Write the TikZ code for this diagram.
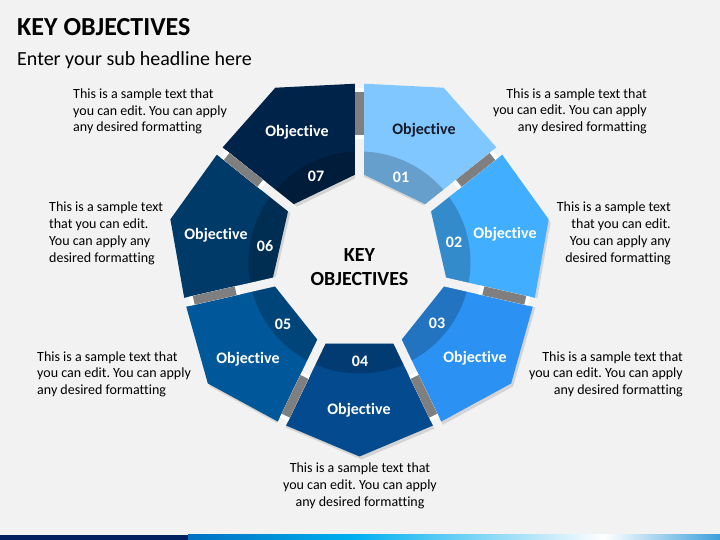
\documentclass[tikz,border=0pt]{standalone}
\usepackage{fontspec}
\setmainfont{Carlito}[Ligatures=NoCommon]
\frenchspacing
\definecolor{pagebg}{HTML}{F2F2F2}
\definecolor{seg1}{HTML}{80C7FF}
\definecolor{seg2}{HTML}{41AEFF}
\definecolor{seg3}{HTML}{2B91F2}
\definecolor{seg4}{HTML}{034A8E}
\definecolor{seg5}{HTML}{005799}
\definecolor{seg6}{HTML}{003A68}
\definecolor{seg7}{HTML}{00234A}
\definecolor{linkgray}{HTML}{7F7F7F}
\definecolor{objdark}{HTML}{141A28}
\definecolor{barnavy}{HTML}{002060}
\definecolor{barblue}{RGB}{0,112,192}
\definecolor{barcyan}{RGB}{0,176,240}
\definecolor{barpale}{RGB}{200,235,250}
\definecolor{barend}{RGB}{60,160,220}
\begin{document}
\begin{tikzpicture}[x=1pt,y=-1pt,
  objlabel/.style={font=\bfseries\fontsize{16}{19}\selectfont,text=white,inner sep=0pt},
  numlabel/.style={font=\bfseries\fontsize{16}{19}\selectfont,text=white,inner sep=0pt},
  desc/.style={font=\fontsize{14}{16.7}\selectfont,align=#1,inner sep=0pt}]
\fill[pagebg] (0,0) rectangle (720,540);
\useasboundingbox (0,0) rectangle (720,540);
% heading
\node[anchor=base west,inner sep=0pt,font=\bfseries\fontsize{26}{30}\selectfont] (title) at (17,36) {KEY OBJECTIVES};
\node[anchor=base west,inner sep=0pt,font=\fontsize{20}{24}\selectfont] (subtitle) at (17,66) {Enter your sub headline here};
% ring of seven segments
\begin{scope}[shift={(359.5,262.5)}]
\foreach \k in {1,...,7}{
  \pgfmathsetmacro\a{-90+(\k-1)*360/7}
  \pgfmathsetmacro\b{\a+360/7}
  \pgfmathsetmacro\m{\a+180/7}
  \fill[black,opacity=.12,shift={(2,3)}] (\a:90) -- (\a:179) -- (\m:194) -- (\b:179) -- (\b:90) -- cycle;
}
\foreach \k/\col in {1/seg1,2/seg2,3/seg3,4/seg4,5/seg5,6/seg6,7/seg7}{
  \pgfmathsetmacro\a{-90+(\k-1)*360/7}
  \pgfmathsetmacro\b{\a+360/7}
  \pgfmathsetmacro\m{\a+180/7}
  \fill[\col] (\a:90) -- (\a:179) -- (\m:194) -- (\b:179) -- (\b:90) -- cycle;
  \begin{scope}
    \clip (\a:90) -- (\a:179) -- (\m:194) -- (\b:179) -- (\b:90) -- cycle;
    \fill[black,opacity=.2] (0,0) circle (111);
  \end{scope}
}
% gaps and links
\foreach \k in {0,...,6}{
  \pgfmathsetmacro\a{-90+\k*360/7}
  \draw[pagebg,line width=9pt] (0,0) -- (\a:200);
  \draw[white,line width=9pt] (\a:123) -- (\a:174);
  \draw[linkgray,line width=9pt] (\a:127) -- (\a:170);
}
\end{scope}
\node[font=\bfseries\fontsize{20}{24}\selectfont,align=center,inner sep=0pt] (centre) at (359.5,267.3) {KEY\\OBJECTIVES};
% numbers and labels
\foreach \k/\x/\y in {1/401/177,2/454/242,3/437/323,4/360/361,5/283/324,6/265/246,7/316/176}
  \node[numlabel] (num\k) at (\x,\y) {0\k};
\foreach \k/\x/\y/\tc in {1/424/130/objdark,2/505/234/white,3/475/358/white,4/359/410/white,5/248/359/white,6/216/235/white,7/297/132/white}
  \node[objlabel,text=\tc] (obj\k) at (\x,\y) {Objective};
% texts
\node[desc=left,anchor=north west] (desc7) at (73,88.6) {This is a sample text that\\you can edit. You can apply\\any desired formatting};
\node[desc=right,anchor=north east] (desc1) at (647,88.3) {This is a sample text that\\you can edit. You can apply\\any desired formatting};
\node[desc=right,anchor=north east] (desc2) at (671,202) {This is a sample text\\that you can edit.\\You can apply any\\desired formatting};
\node[desc=left,anchor=north west] (desc6) at (49,202) {This is a sample text\\that you can edit.\\You can apply any\\desired formatting};
\node[desc=left,anchor=north west] (desc5) at (37,351.3) {This is a sample text that\\you can edit. You can apply\\any desired formatting};
\node[desc=right,anchor=north east] (desc3) at (683,351.3) {This is a sample text that\\you can edit. You can apply\\any desired formatting};
\node[desc=center,anchor=north] (desc4) at (360,463) {This is a sample text that\\you can edit. You can apply\\any desired formatting};
% bottom bar
\fill[barnavy] (0,534.5) rectangle (188,540);
\shade[left color=barblue,right color=barcyan] (188,534.5) rectangle (354,540);
\shade[left color=barcyan,right color=barpale] (354,534.5) rectangle (550,540);
\shade[left color=barpale,right color=white] (550,534.5) rectangle (604,540);
\shade[left color=white,right color=barend] (604,534.5) rectangle (720,540);
\end{tikzpicture}
\end{document}
